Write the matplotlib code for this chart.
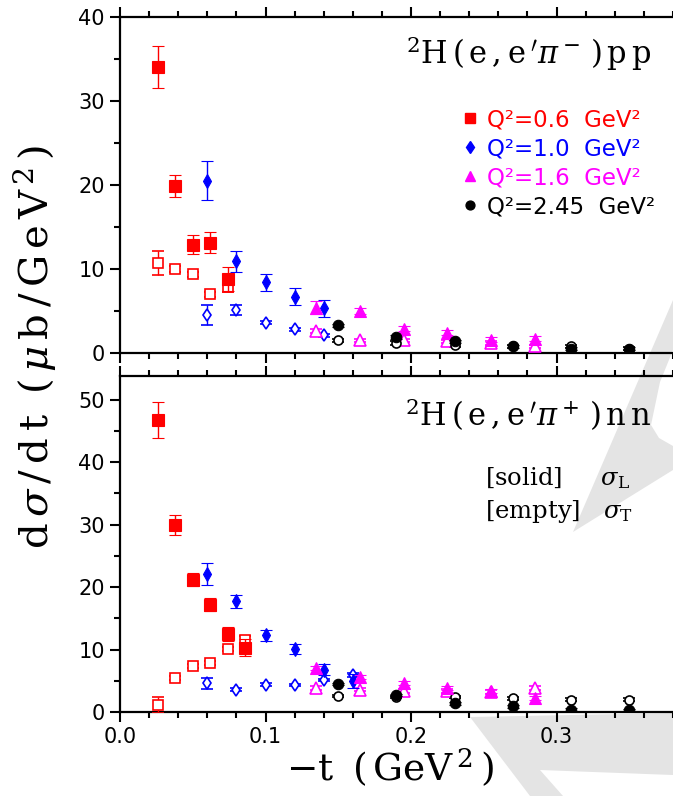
import matplotlib
matplotlib.use("Agg")
import matplotlib.pyplot as plt
from matplotlib.patches import Polygon
from matplotlib.lines import Line2D
from matplotlib.ticker import MultipleLocator

plt.rcParams['mathtext.fontset'] = 'dejavuserif'

# ---------------- data: pi- (top panel) ----------------
tm_06 = [0.026, 0.038, 0.050, 0.062, 0.074]
Lm_06 = [34.0, 19.9, 12.9, 13.1, 8.8]
eLm_06 = [2.5, 1.3, 1.1, 1.25, 1.4]
Tm_06 = [10.7, 10.0, 9.4, 7.0, 7.8]
eTm_06 = [1.4, 0.4, 0.3, 0.3, 0.5]

tm_10 = [0.060, 0.080, 0.100, 0.120, 0.140]
Lm_10 = [20.5, 10.9, 8.4, 6.7, 5.3]
eLm_10 = [2.3, 1.2, 1.0, 1.0, 1.0]
Tm_10 = [4.5, 5.1, 3.6, 2.8, 2.1]
eTm_10 = [1.2, 0.6, 0.2, 0.2, 0.2]

tm_16 = [0.135, 0.165, 0.195, 0.225, 0.255, 0.285]
Lm_16 = [5.4, 5.0, 2.9, 2.4, 1.6, 1.7]
eLm_16 = [0.8, 0.3, 0.3, 0.3, 0.3, 0.3]
Tm_16 = [2.6, 1.5, 1.5, 1.4, 1.2, 0.8]
eTm_16 = [0.2, 0.2, 0.2, 0.2, 0.2, 0.2]

tm_245 = [0.150, 0.190, 0.230, 0.270, 0.310, 0.350]
Lm_245 = [3.3, 1.9, 1.4, 0.8, 0.5, 0.5]
eLm_245 = [0.2, 0.2, 0.2, 0.2, 0.2, 0.2]
Tm_245 = [1.5, 1.2, 0.9, 0.8, 0.8, 0.5]
eTm_245 = [0.2, 0.2, 0.2, 0.2, 0.2, 0.2]

# ---------------- data: pi+ (bottom panel) ----------------
tp_06 = [0.026, 0.038, 0.050, 0.062, 0.074, 0.086]
Lp_06 = [46.7, 30.0, 21.2, 17.2, 12.5, 10.3]
eLp_06 = [2.9, 1.6, 1.0, 1.0, 1.1, 1.4]
Tp_06 = [1.1, 5.4, 7.4, 7.9, 10.1, 11.6]
eTp_06 = [1.3, 0.3, 0.3, 0.3, 0.3, 0.5]

tp_10 = [0.060, 0.080, 0.100, 0.120, 0.140, 0.160]
Lp_10 = [22.1, 17.7, 12.3, 10.1, 6.8, 5.0]
eLp_10 = [1.8, 1.1, 0.9, 0.8, 0.9, 1.1]
Tp_10 = [4.6, 3.6, 4.4, 4.3, 5.1, 5.9]
eTp_10 = [0.9, 0.2, 0.2, 0.2, 0.2, 0.3]

tp_16 = [0.135, 0.165, 0.195, 0.225, 0.255, 0.285]
Lp_16 = [7.0, 5.6, 4.7, 3.8, 3.4, 2.2]
eLp_16 = [0.3, 0.3, 0.3, 0.3, 0.3, 0.3]
Tp_16 = [3.8, 3.6, 3.4, 3.4, 3.2, 3.9]
eTp_16 = [0.3, 0.3, 0.3, 0.3, 0.3, 0.3]

tp_245 = [0.150, 0.190, 0.230, 0.270, 0.310, 0.350]
Lp_245 = [4.5, 2.7, 1.4, 0.9, 0.4, 0.3]
eLp_245 = [0.2, 0.2, 0.2, 0.2, 0.2, 0.2]
Tp_245 = [2.6, 2.4, 2.4, 2.2, 2.0, 2.0]
eTp_245 = [0.2, 0.2, 0.2, 0.2, 0.2, 0.2]

x_ticks = [0.0, 0.1, 0.2, 0.3]
x_ticklabels = ["0.0", "0.1", "0.2", "0.3"]
y_ticks_top = [0, 10, 20, 30, 40]
y_ticks_bot = [0, 10, 20, 30, 40, 50]

legend_labels = ["Q²=0.6  GeV²", "Q²=1.0  GeV²", "Q²=1.6  GeV²", "Q²=2.45  GeV²"]
colors = ["#ff0000", "#0000ff", "#ff00ff", "#000000"]
markers = ["s", "d", "^", "o"]
msize_full = [8.6, 7.5, 8.6, 7.5]
msize_open = [7.8, 6.0, 8.0, 6.5]

top_series = [
    (tm_06, Lm_06, eLm_06, Tm_06, eTm_06),
    (tm_10, Lm_10, eLm_10, Tm_10, eTm_10),
    (tm_16, Lm_16, eLm_16, Tm_16, eTm_16),
    (tm_245, Lm_245, eLm_245, Tm_245, eTm_245),
]
bot_series = [
    (tp_06, Lp_06, eLp_06, Tp_06, eTp_06),
    (tp_10, Lp_10, eLp_10, Tp_10, eTp_10),
    (tp_16, Lp_16, eLp_16, Tp_16, eTp_16),
    (tp_245, Lp_245, eLp_245, Tp_245, eTp_245),
]

W, H = 673, 796
fig = plt.figure(figsize=(W / 100, H / 100), dpi=100)

# light grey background watermark (decoration, pixel coords)
wm_upper = [(673, 300), (573, 532), (673, 470), (673, 446), (659, 438),
            (651, 425), (660, 382), (673, 350)]
wm_lower = [(470, 717), (673, 713), (673, 775), (540, 770), (563, 796),
            (530, 796)]
for poly in (wm_upper, wm_lower):
    pts = [(x / W, 1 - y / H) for x, y in poly]
    fig.patches.append(Polygon(pts, closed=True, transform=fig.transFigure,
                               facecolor="#e4e4e4", edgecolor="none", zorder=-5))

x0 = 120 / W
xmax = 0.385
ax_w = xmax * 1455 / W
ax_top = fig.add_axes([x0, 1 - 353 / H, ax_w, (353 - 17) / H])
ax_bot = fig.add_axes([x0, 1 - 712 / H, ax_w, (712 - 376) / H])

def draw(ax, series):
    for (t, L, eL, T, eT), c, m, mf, mo in zip(series, colors, markers,
                                             msize_full, msize_open):
        ax.errorbar(t, T, yerr=eT, fmt=m, color=c, mfc="white", mec=c,
                    ms=mo, mew=1.2, elinewidth=1.0, capsize=4.5, capthick=1.0,
                    zorder=3)
        ax.errorbar(t, L, yerr=eL, fmt=m, color=c, mfc=c, mec=c,
                    ms=mf, mew=0.8, elinewidth=1.0, capsize=4.5, capthick=1.0,
                    zorder=4)

draw(ax_top, top_series)
draw(ax_bot, bot_series)

for ax, yt in ((ax_top, y_ticks_top), (ax_bot, y_ticks_bot)):
    ax.set_facecolor("none")
    ax.set_xlim(0, xmax)
    ax.set_xticks(x_ticks)
    ax.set_xticklabels(x_ticklabels)
    ax.xaxis.set_minor_locator(MultipleLocator(0.02))
    ax.set_yticks(yt)
    ax.yaxis.set_minor_locator(MultipleLocator(5))
    ax.tick_params(which="both", direction="out", top=True, right=False,
                   width=1.5, labelsize=15)
    ax.tick_params(which="major", length=7.5)
    ax.tick_params(which="minor", length=4)
    for s in ax.spines.values():
        s.set_linewidth(1.6)
    ax.spines["right"].set_visible(False)

ax_top.set_ylim(0, 40)
ax_bot.set_ylim(0, 53.8)
ax_top.tick_params(labelbottom=False)

serif = "DejaVu Serif"
ax_top.text(0.948, 0.89,
            r"$^2\mathrm{H}\,(\,\mathrm{e}\,,\mathrm{e}\,^\prime\pi^-\,)\,\mathrm{p}\,\mathrm{p}$",
            transform=ax_top.transAxes, ha="right", va="center", fontsize=22)
ax_bot.text(0.948, 0.885,
            r"$^2\mathrm{H}\,(\,\mathrm{e}\,,\mathrm{e}\,^\prime\pi^+\,)\,\mathrm{n}\,\mathrm{n}$",
            transform=ax_bot.transAxes, ha="right", va="center", fontsize=22)

ax_bot.text(0.652, 0.697, r"[solid]     $\sigma_{\rm L}$", transform=ax_bot.transAxes,
            ha="left", va="center", fontsize=17.5, family=serif)
ax_bot.text(0.652, 0.597, r"[empty]   $\sigma_{\rm T}$", transform=ax_bot.transAxes,
            ha="left", va="center", fontsize=17.5, family=serif)

handles = [Line2D([], [], ls="none", marker=m, color=c, ms=ms * 0.85)
           for m, c, ms in zip(markers, colors, msize_full)]
leg = ax_top.legend(handles, legend_labels, loc="upper left",
                    bbox_to_anchor=(0.6125, 0.728), frameon=False, fontsize=16.5,
                    handlelength=0.6, handletextpad=0.45, labelspacing=0.26,
                    borderaxespad=0, borderpad=0)
for txt, c in zip(leg.get_texts(), colors):
    txt.set_color(c)

fig.text(35 / W, 1 - 347 / H,
         r"$\mathrm{d}\,\sigma\,/\,\mathrm{d}\,\mathrm{t}\;\;(\,\mu\,\mathrm{b}\,/\,\mathrm{G}\,\mathrm{e}\,\mathrm{V}^{\,2}\,)$",
         rotation=90, ha="center", va="center", fontsize=29)
fig.text(390 / W, 1 - 768 / H,
         r"$-\mathrm{t}\;\;(\,\mathrm{G}\mathrm{e}\mathrm{V}^{\,2}\,)$",
         ha="center", va="center", fontsize=27)

fig.savefig("out.png", dpi=100)
